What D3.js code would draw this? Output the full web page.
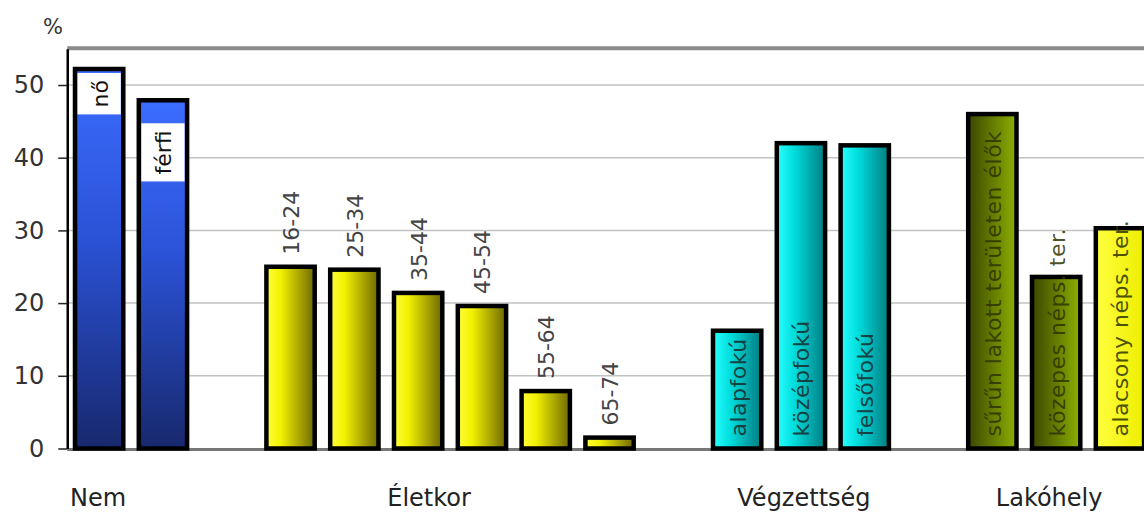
<!DOCTYPE html>
<html>
<head>
<meta charset="utf-8">
<script src="https://cdn.jsdelivr.net/npm/d3@7"></script>
<style>
  html, body { margin: 0; padding: 0; background: #fff; overflow: hidden; }
  svg { display: block; font-family: "DejaVu Sans", Verdana, sans-serif; }
</style>
</head>
<body>
<svg id="chart" width="1144" height="514"></svg>
<script>
// ---------- DATA ----------
const groups = ["Nem", "Életkor", "Végzettség", "Lakóhely"];
const categories = ["nő", "férfi",
  "16-24", "25-34", "35-44", "45-54", "55-64", "65-74",
  "alapfokú", "középfokú", "felsőfokú",
  "sűrűn lakott területen élők", "közepes néps. ter.", "alacsony néps. ter."];
const categoryGroup = [0, 0, 1, 1, 1, 1, 1, 1, 2, 2, 2, 3, 3, 3];
const values = [52.2, 47.9, 25.0, 24.6, 21.4, 19.6, 7.9, 1.5, 16.2, 42.0, 41.7, 46.0, 23.6, 30.3];
const yTicks = [0, 10, 20, 30, 40, 50];
const yUnit = "%";

// ---------- LAYOUT / STYLE (code constants) ----------
const W = 1144, H = 514;
const svg = d3.select("#chart");
const nSlots = categories.length + groups.length; // one gap slot after each group
const slotOf = categories.map((c, i) => i + categoryGroup[i]);
const step = 63.8, x0 = 67.25;
const x = d3.scaleBand().domain(d3.range(nSlots))
  .range([x0, x0 + nSlots * step]).paddingInner(0.243).paddingOuter(0.1215);
const y = d3.scaleLinear().domain([0, 55]).range([448.5, 48.65]);
const bw = x.bandwidth();

const fillFor = (i) => {
  const g = categoryGroup[i];
  if (g === 0) return "url(#gBlue)";
  if (g === 1) return "url(#gYellow)";
  if (g === 2) return "url(#gCyan)";
  if (categories[i] === "alacsony néps. ter.") return "url(#gBright)";
  return "url(#gGreen)";
};

// gradients
const defs = svg.append("defs");
function grad(id, vertical, stops) {
  const g = defs.append("linearGradient").attr("id", id)
    .attr("x1", 0).attr("y1", 0).attr("x2", vertical ? 0 : 1).attr("y2", vertical ? 1 : 0);
  stops.forEach(([o, c]) => g.append("stop").attr("offset", o).attr("stop-color", c));
}
grad("gBlue", true, [[0, "#3b6dff"], [0.45, "#2b52d6"], [1, "#17286c"]]);
grad("gYellow", false, [[0, "#ffff3a"], [0.3, "#f2f000"], [1, "#6d6800"]]);
grad("gCyan", false, [[0, "#2cffff"], [0.35, "#00dede"], [1, "#007c80"]]);
grad("gGreen", false, [[0, "#3a4600"], [1, "#8db000"]]);
grad("gBright", false, [[0, "#ffff40"], [1, "#eeee00"]]);

// gridlines
svg.append("g").selectAll("line").data(yTicks.filter(t => t > 0)).join("line")
  .attr("x1", x0).attr("x2", W)
  .attr("y1", d => y(d)).attr("y2", d => y(d))
  .attr("stroke", "#c2c2c2").attr("stroke-width", 1.5);

// top frame line
svg.append("line").attr("x1", x0).attr("x2", W)
  .attr("y1", y(55) - 0.5).attr("y2", y(55) - 0.5)
  .attr("stroke", "#8a8a8a").attr("stroke-width", 4);

// baseline
svg.append("line").attr("x1", x0).attr("x2", W)
  .attr("y1", y(0) + 1).attr("y2", y(0) + 1)
  .attr("stroke", "#777").attr("stroke-width", 3);

// y axis
const yAxis = svg.append("g").attr("transform", `translate(${x0},0)`)
  .call(d3.axisLeft(y).tickValues(yTicks).tickSize(9).tickPadding(14).tickSizeOuter(0));
yAxis.select(".domain").attr("stroke", "#000").attr("stroke-width", 2.5);
yAxis.selectAll(".tick line").attr("stroke", "#222").attr("stroke-width", 1.5);
yAxis.selectAll(".tick text").attr("font-size", 24).attr("fill", "#333")
  .attr("font-family", "DejaVu Sans, Verdana, sans-serif");

svg.append("text").attr("x", 43).attr("y", 34).attr("font-size", 21).attr("fill", "#333").text(yUnit);

// bars
const bars = svg.append("g").selectAll("rect").data(values).join("rect")
  .attr("x", (d, i) => x(slotOf[i]))
  .attr("width", bw)
  .attr("y", d => y(d))
  .attr("height", d => y(0) - y(d))
  .attr("fill", (d, i) => fillFor(i))
  .attr("stroke", "#000").attr("stroke-width", 4.5);

// bar labels
const LBL = 22;
const nemOffset = { "nő": 11, "férfi": 30 };
const labels = svg.append("g");
categories.forEach((c, i) => {
  const g = categoryGroup[i];
  const cx = x(slotOf[i]) + bw / 2 + 1;
  const v = values[i];
  if (g === 0) {
    const tEnd = y(v) + nemOffset[c];
    const t = labels.append("text")
      .attr("font-size", LBL).attr("fill", "#111")
      .attr("dominant-baseline", "central")
      .attr("text-anchor", "end")
      .attr("transform", `translate(${cx},${tEnd}) rotate(-90)`)
      .text(c);
    const len = t.node().getComputedTextLength();
    labels.insert("rect", "text")
      .attr("x", x(slotOf[i]) + 2.5).attr("width", bw - 5)
      .attr("y", tEnd - 7).attr("height", len + 14)
      .attr("fill", "#fff");
  } else if (g === 1) {
    labels.append("text")
      .attr("font-size", LBL).attr("fill", "#444")
      .attr("dominant-baseline", "central")
      .attr("text-anchor", "start")
      .attr("transform", `translate(${cx},${y(v) - 12}) rotate(-90)`)
      .text(c);
  } else {
    labels.append("text")
      .attr("font-size", LBL).attr("fill", g === 3 ? "#2e3300" : "#1a2a2a")
      .attr("fill-opacity", 0.85)
      .attr("letter-spacing", 0.5)
      .attr("dominant-baseline", "central")
      .attr("text-anchor", "start")
      .attr("transform", `translate(${cx},${y(0) - 12}) rotate(-90)`)
      .text(c);
  }
});

// group labels
const groupShift = [-33, -21, 3, -7];
groups.forEach((gname, gi) => {
  const idx = categoryGroup.map((g, i) => g === gi ? i : -1).filter(i => i >= 0);
  const left = x(slotOf[idx[0]]) - 2;
  const right = x(slotOf[idx[idx.length - 1]]) + bw + 2;
  svg.append("text")
    .attr("x", (left + right) / 2 + groupShift[gi]).attr("y", 506)
    .attr("text-anchor", "middle").attr("font-size", 24).attr("fill", "#222")
    .text(gname);
});
</script>
</body>
</html>
